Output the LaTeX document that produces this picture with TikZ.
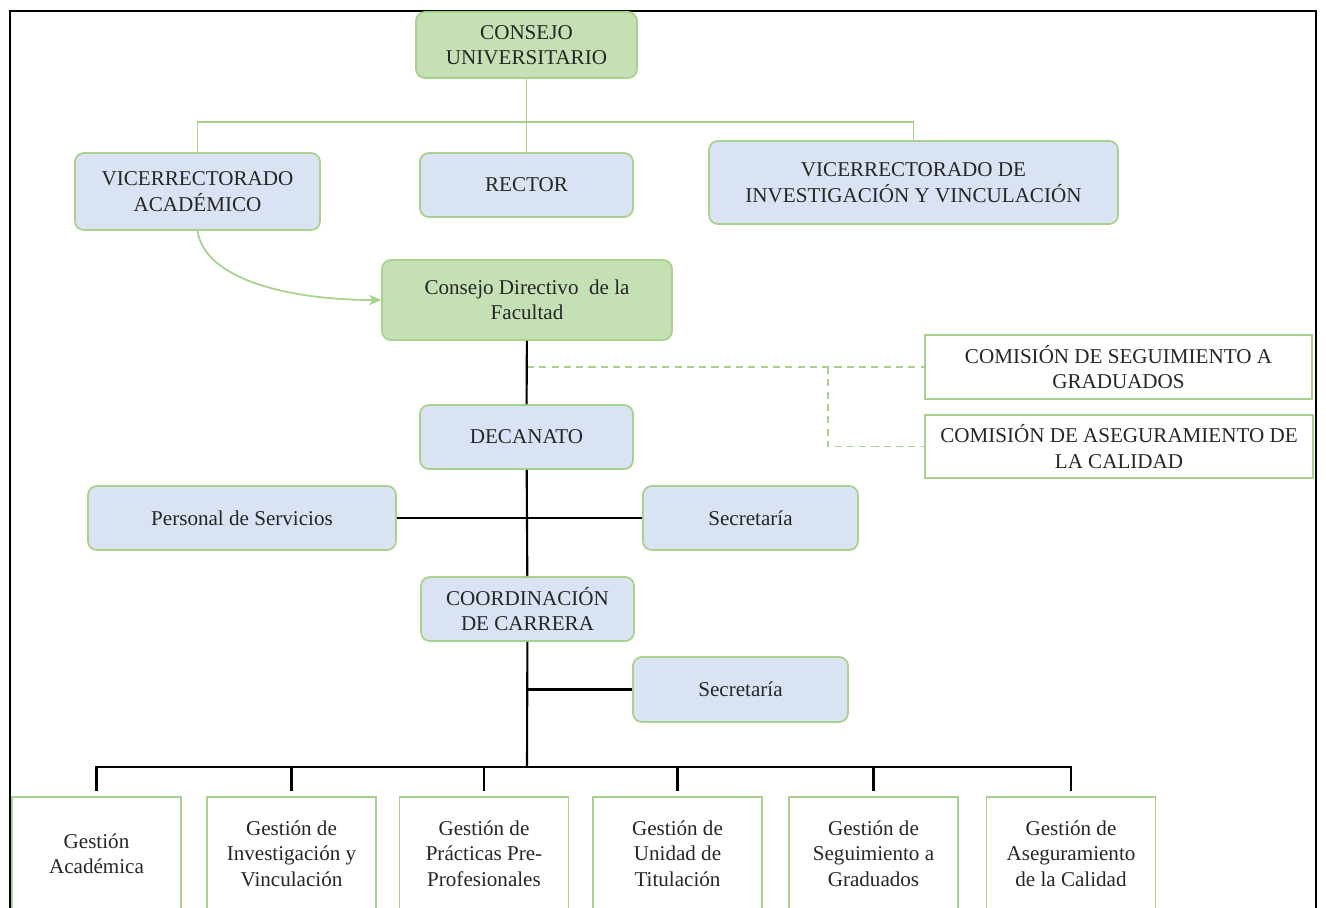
\documentclass[tikz,border=0pt]{standalone}
\usepackage{fontspec}
\setmainfont{Liberation Serif}
\usetikzlibrary{arrows.meta}

\definecolor{gfill}{HTML}{C5E0B4}
\definecolor{bfill}{HTML}{DAE3F3}
\definecolor{gline}{HTML}{A9D18E}

\begin{document}
\begin{tikzpicture}[x=0.02cm,y=-0.02cm,
    box/.style={draw=gline,line width=1pt,align=center,inner sep=2pt,
      text=black!85,font=\fontsize{12}{14.5}\selectfont},
    gbox/.style={box,fill=gfill,rounded corners=5pt},
    bbox/.style={box,fill=bfill,rounded corners=5pt},
    wbox/.style={box,fill=white},
    glink/.style={draw=gline,line width=1pt},
    blink/.style={draw=black,line width=1.2pt},
    dlink/.style={draw=gline,line width=1pt,dash pattern=on 4pt off 3pt}]
  \useasboundingbox (0,0) rectangle (1326,907);
  \clip (0,0) rectangle (1326,907);
  \draw[line width=1.2pt] (10,920) -- (10,11) -- (1316,11) -- (1316,920);

  \node[gbox,minimum width=4.42cm,minimum height=1.32cm] (cu) at (526.5,45) {CONSEJO\\UNIVERSITARIO};
  \node[bbox,minimum width=4.9cm,minimum height=1.54cm] (va) at (197.5,191.5) {VICERRECTORADO\\ACADÉMICO};
  \node[bbox,minimum width=4.26cm,minimum height=1.28cm] (rector) at (526.5,185) {RECTOR};
  \node[bbox,minimum width=8.18cm,minimum height=1.66cm] (viv) at (913.5,182.5) {VICERRECTORADO DE\\INVESTIGACIÓN Y VINCULACIÓN};
  \node[gbox,minimum width=5.8cm,minimum height=1.6cm] (cdf) at (527,300) {Consejo Directivo~ de la\\Facultad};
  \node[wbox,minimum width=7.74cm,minimum height=1.28cm] (csg) at (1118.5,367) {COMISIÓN DE SEGUIMIENTO A\\GRADUADOS};
  \node[wbox,minimum width=7.76cm,minimum height=1.26cm] (cac) at (1119,446.5) {COMISIÓN DE ASEGURAMIENTO DE\\LA CALIDAD};
  \node[bbox,minimum width=4.26cm,minimum height=1.28cm] (decanato) at (526.5,437) {DECANATO};
  \node[bbox,minimum width=6.16cm,minimum height=1.28cm] (ps) at (242,518) {Personal de Servicios};
  \node[bbox,minimum width=4.3cm,minimum height=1.28cm] (sec1) at (750.5,518) {Secretaría};
  \node[bbox,minimum width=4.26cm,minimum height=1.28cm] (cc) at (527.5,609) {COORDINACIÓN\\DE CARRERA};
  \node[bbox,minimum width=4.3cm,minimum height=1.3cm] (sec2) at (740.5,689.5) {Secretaría};

  \node[wbox,minimum width=3.38cm,minimum height=2.26cm] (g1) at (96.5,853.5) {Gestión\\Académica};
  \node[wbox,minimum width=3.38cm,minimum height=2.26cm] (g2) at (291.5,853.5) {Gestión de\\Investigación y\\Vinculación};
  \node[wbox,minimum width=3.38cm,minimum height=2.26cm] (g3) at (484,853.5) {Gestión de\\Prácticas Pre-\\Profesionales};
  \node[wbox,minimum width=3.38cm,minimum height=2.26cm] (g4) at (677.5,853.5) {Gestión de\\Unidad de\\Titulación};
  \node[wbox,minimum width=3.38cm,minimum height=2.26cm] (g5) at (873.5,853.5) {Gestión de\\Seguimiento a\\Graduados};
  \node[wbox,minimum width=3.38cm,minimum height=2.26cm] (g6) at (1071,853.5) {Gestión de\\Aseguramiento\\de la Calidad};

  % consejo universitario
  \coordinate (top) at (527,122);
  \draw[glink] (cu) -- (rector);
  \draw[glink] (va.north) |- (top) -| (viv.north);
  \draw[glink,-{Stealth[length=7pt,width=6pt]}] (va.south) .. controls (205,280) and (290,300) .. (cdf.west);

  % comisiones
  \coordinate (dk) at (828,367);
  \draw[dlink] (cdf.south |- csg) -- (csg);
  \draw[dlink] (dk) |- (cac);

  % facultad
  \draw[blink] (cdf) -- (decanato);
  \draw[blink] (decanato) -- (cc);
  \draw[blink] (ps) -- (sec1);
  \coordinate (bus) at (527,767);
  \draw[blink] (cc) -- (bus);
  \draw[blink] (cc.south |- sec2) -- (sec2);
  \draw[blink] ([yshift=3pt]g1.north) |- (bus) -| ([yshift=3pt]g6.north);
  \foreach \g in {g2,g3,g4,g5}
    \draw[blink] (\g.north |- bus) -- ([yshift=3pt]\g.north);
\end{tikzpicture}
\end{document}
